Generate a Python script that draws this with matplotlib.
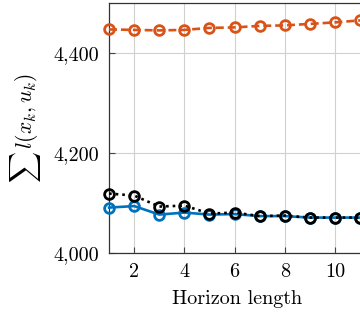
import matplotlib
matplotlib.use("Agg")
import matplotlib.pyplot as plt
from matplotlib.ticker import FuncFormatter

plt.rcParams['font.family'] = 'serif'
plt.rcParams['font.serif'] = ['cmr10', 'DejaVu Serif']
plt.rcParams['mathtext.fontset'] = 'cm'
plt.rcParams['axes.unicode_minus'] = False

horizon = [1, 2, 3, 4, 5, 6, 7, 8, 9, 10, 11]
orange_vals = [4447, 4446, 4445, 4446, 4450, 4451, 4454, 4455, 4458, 4461, 4465]
blue_vals = [4091, 4094, 4077, 4081, 4077, 4078, 4074, 4074, 4071, 4071, 4071]
black_vals = [4119, 4115, 4093, 4095, 4079, 4081, 4074, 4075, 4071, 4071, 4071]

fig = plt.figure(figsize=(3.6, 3.2), dpi=100)
ax = fig.add_axes([0.303, 0.209, 0.711, 0.782])

ms = 7
mew = 2.0
lw = 1.9
ax.plot(horizon, orange_vals, color='#D95319', linestyle=(0, (3, 1.5)), lw=lw,
        marker='o', ms=ms, mew=mew, mfc='none', clip_on=False, zorder=3)
ax.plot(horizon, blue_vals, color='#0072BD', linestyle='-', lw=lw,
        marker='o', ms=ms, mew=mew, mfc='none', clip_on=False, zorder=3)
ax.plot(horizon, black_vals, color='black', linestyle=(0, (1, 1.5)), lw=lw,
        marker='o', ms=ms, mew=mew, mfc='none', clip_on=False, zorder=4)

ax.set_xlim(1, 11.2)
ax.set_ylim(4000, 4500)
ax.set_xticks([2, 4, 6, 8, 10])
ax.set_yticks([4000, 4200, 4400])
ax.yaxis.set_major_formatter(FuncFormatter(lambda v, p: f"{int(v):,}"))
ax.grid(True, color='#d0d0d0', lw=0.8)
ax.set_axisbelow(True)
ax.tick_params(direction='in', length=4, labelsize=14.5, color='#444444')
ax.tick_params(axis='x', pad=7)
ax.tick_params(axis='y', pad=7)
for s in ax.spines.values():
    s.set_color('#333333')
    s.set_linewidth(0.9)
ax.set_xlabel('Horizon length', fontsize=14.5, labelpad=7)
ax.set_ylabel(r'$\sum\, l(x_k, u_k)$', fontsize=15.5, labelpad=8)

fig.savefig('out.png', dpi=100)
